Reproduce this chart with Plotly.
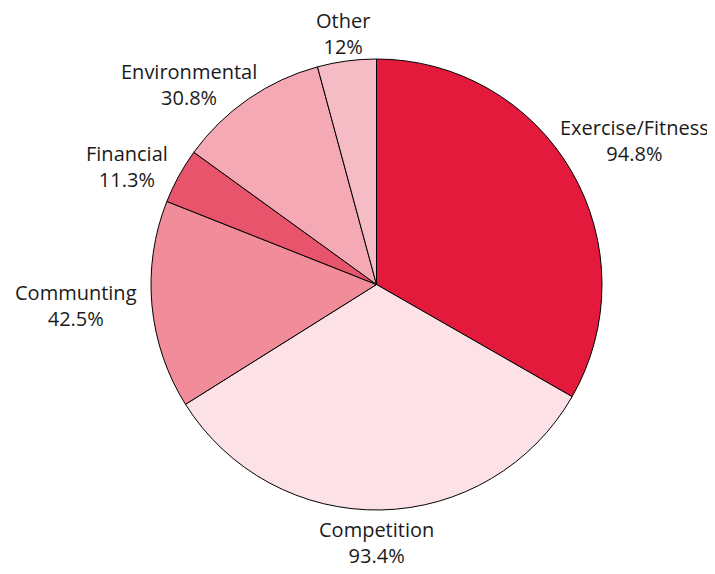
import math
import plotly.graph_objects as go

labels = ["Exercise/Fitness", "Competition", "Communting", "Financial", "Environmental", "Other"]
values = [94.8, 93.4, 42.5, 11.3, 30.8, 12]
value_text = ["94.8%", "93.4%", "42.5%", "11.3%", "30.8%", "12%"]
colors = ["#E31A3B", "#FCE1E6", "#F18D9B", "#E9546D", "#F4A9B5", "#F6BCC6"]

# label placement (style): angle tweak in degrees and radial distance in pie radii
label_angle_shift = [1.0, 1.1, 1.25, -3.45, -8.6, 0.0]
label_radius = [1.31, 1.145, 1.335, 1.225, 1.215, 1.125]

fig = go.Figure(go.Pie(
    labels=labels,
    values=values,
    text=value_text,
    textinfo="none",
    sort=False,
    direction="clockwise",
    rotation=0,
    marker=dict(colors=colors, line=dict(color="#000000", width=1)),
    hoverinfo="label+text",
    showlegend=False,
    domain=dict(x=[0, 1], y=[0, 1]),
))

total = sum(values)
cum = 0.0
annotations = []
for lab, val, txt, dth, rf in zip(labels, values, value_text, label_angle_shift, label_radius):
    mid = (cum + val / 2) / total * 360.0 + dth
    cum += val
    th = math.radians(mid)
    annotations.append(dict(
        x=0.5 + 0.5 * rf * math.sin(th),
        y=0.5 + 0.5 * rf * math.cos(th),
        xref="paper", yref="paper",
        text=f"{lab}<br>{txt}",
        showarrow=False,
        xanchor="center", yanchor="middle",
        align="center",
        font=dict(family="Open Sans, Noto Sans, sans-serif", size=20, color="#1a1a1a"),
    ))

# page body has an 8px margin, so the figure is sized to fit the window
fig.update_layout(
    width=707, height=566,
    margin=dict(l=143, r=113, t=51, b=64),
    paper_bgcolor="white",
    plot_bgcolor="white",
    annotations=annotations,
)

fig.write_html("out.html")
